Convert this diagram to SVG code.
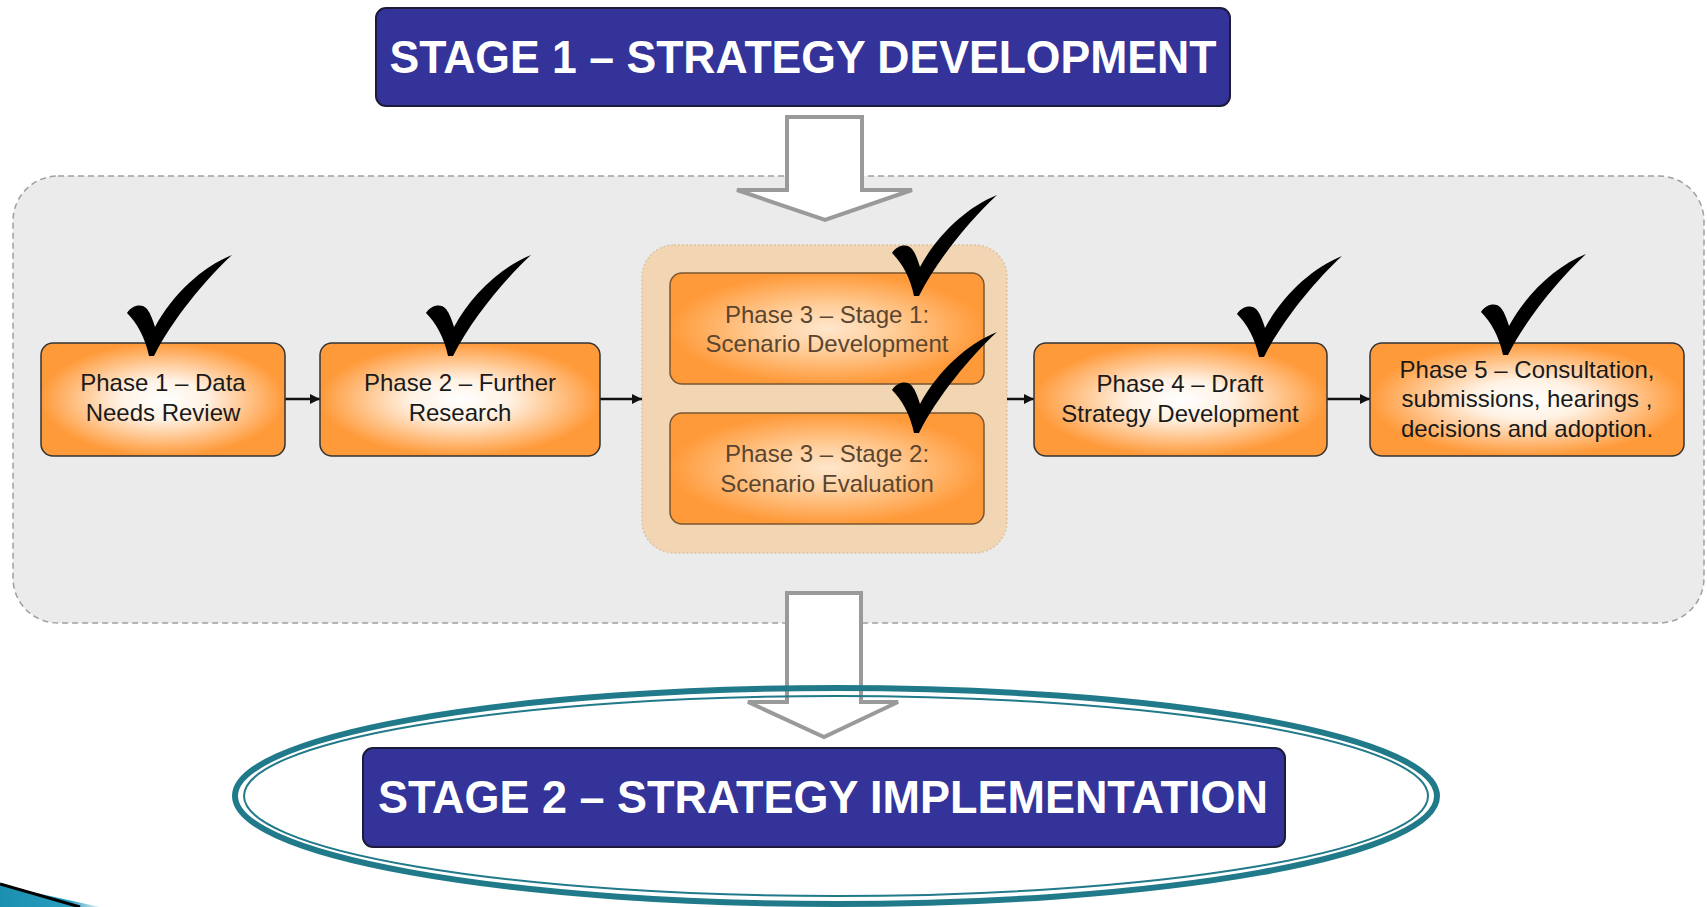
<svg xmlns="http://www.w3.org/2000/svg" width="1707" height="907" viewBox="0 0 1707 907">
<defs>
<radialGradient id="og" cx="0.5" cy="0.5" r="0.5">
<stop offset="0" stop-color="#ffffff"/>
<stop offset="0.35" stop-color="#fff2e4"/>
<stop offset="1" stop-color="#ff9a3a"/>
</radialGradient>
<radialGradient id="og3" cx="0.5" cy="0.5" r="0.5">
<stop offset="0" stop-color="#ffe6cc"/>
<stop offset="0.4" stop-color="#ffcf9c"/>
<stop offset="1" stop-color="#ff9a3a"/>
</radialGradient>
<linearGradient id="sw" x1="0" y1="0" x2="1" y2="0">
<stop offset="0" stop-color="#1b8fb0"/>
<stop offset="0.7" stop-color="#2a9ec0"/>
<stop offset="1" stop-color="#e6f4f8"/>
</linearGradient>
<marker id="ah" viewBox="0 0 10 10" refX="10" refY="5" markerWidth="10" markerHeight="10" markerUnits="userSpaceOnUse" orient="auto">
<path d="M0,0 L10,5 L0,10 Z" fill="#111"/>
</marker>
<path id="chk" d="M0,58 C5,50 15,48 20,54 C24,59 26,66 28,72 C45,40 75,12 105,0 C78,25 45,65 27,101 L22,101 C18,82 10,68 0,58 Z"/>
</defs>
<style>
.stage{fill:#333399;stroke:#1c1c3a;stroke-width:2}
.stxt{font-family:"Liberation Sans",Arial,sans-serif;font-weight:bold;font-size:46px;fill:#ffffff}
.box{fill:url(#og);stroke:#333;stroke-width:1.5}
.box3{fill:url(#og3);stroke:#7a5530;stroke-width:1.5}
.t{font-family:"Liberation Sans",Arial,sans-serif;font-size:24px;fill:#1a1a1a;text-anchor:middle}
.t3{font-family:"Liberation Sans",Arial,sans-serif;font-size:24px;fill:#5a4530;text-anchor:middle}
.harrow{fill:#ffffff;stroke:#9a9a9a;stroke-width:4;stroke-linejoin:miter}
.conn{stroke:#111;stroke-width:2.5;fill:none;marker-end:url(#ah)}
.check{fill:#000}
</style>
<rect x="0" y="0" width="1707" height="907" fill="#ffffff"/>
<g id="stage1">
<rect class="stage" x="376" y="8" width="854" height="98" rx="10"/>
<text class="stxt" x="803" y="73" text-anchor="middle" textLength="827" lengthAdjust="spacingAndGlyphs">STAGE 1 – STRATEGY DEVELOPMENT</text>
</g>
<g id="container">
<rect x="13" y="176" width="1691" height="447" rx="45" fill="#ebebeb" stroke="#a0a0a0" stroke-width="1.5" stroke-dasharray="6 4"/>
</g>
<g id="arrow-top">
<path class="harrow" d="M787,117 L862,117 L862,190 L912,190 L825,220 L737,190 L787,190 Z"/>
</g>
<g id="phase3-group">
<rect x="642" y="245" width="365" height="308" rx="32" fill="#f2d5b3" stroke="#dcc3a3" stroke-width="1.5" stroke-dasharray="2 2"/>
</g>
<g id="connectors">
<line class="conn" x1="285" y1="399" x2="320" y2="399"/>
<line class="conn" x1="600" y1="399" x2="642" y2="399"/>
<line class="conn" x1="1007" y1="399" x2="1034" y2="399"/>
<line class="conn" x1="1327" y1="399" x2="1370" y2="399"/>
</g>
<g id="phase1">
<rect class="box" x="41" y="343" width="244" height="113" rx="12"/>
<text class="t" x="163" y="391">Phase 1 – Data</text>
<text class="t" x="163" y="421">Needs Review</text>
</g>
<g id="phase2">
<rect class="box" x="320" y="343" width="280" height="113" rx="12"/>
<text class="t" x="460" y="391">Phase 2 – Further</text>
<text class="t" x="460" y="421">Research</text>
</g>
<g id="phase3-stage1">
<rect class="box3" x="670" y="273" width="314" height="111" rx="12"/>
<text class="t3" x="827" y="323">Phase 3 – Stage 1:</text>
<text class="t3" x="827" y="352">Scenario Development</text>
</g>
<g id="phase3-stage2">
<rect class="box3" x="670" y="413" width="314" height="111" rx="12"/>
<text class="t3" x="827" y="462">Phase 3 – Stage 2:</text>
<text class="t3" x="827" y="492">Scenario Evaluation</text>
</g>
<g id="phase4">
<rect class="box" x="1034" y="343" width="293" height="113" rx="12"/>
<text class="t" x="1180" y="392">Phase 4 – Draft</text>
<text class="t" x="1180" y="422">Strategy Development</text>
</g>
<g id="phase5">
<rect class="box" x="1370" y="343" width="314" height="113" rx="12"/>
<text class="t" x="1527" y="378">Phase 5 – Consultation,</text>
<text class="t" x="1527" y="407">submissions, hearings ,</text>
<text class="t" x="1527" y="437">decisions and adoption.</text>
</g>
<g id="checks">
<use href="#chk" class="check" x="127" y="255"/>
<use href="#chk" class="check" x="426" y="255"/>
<use href="#chk" class="check" x="892" y="195"/>
<use href="#chk" class="check" x="892" y="332"/>
<use href="#chk" class="check" x="1237" y="256"/>
<use href="#chk" class="check" x="1481" y="254"/>
</g>
<g id="arrow-bottom">
<path class="harrow" d="M787,593 L861,593 L861,702 L898,702 L824,737 L748,702 L787,702 Z"/>
</g>
<g id="ellipse">
<ellipse cx="836" cy="796" rx="601" ry="108" fill="none" stroke="#217a8a" stroke-width="6"/>
<ellipse cx="836" cy="796" rx="592" ry="100" fill="none" stroke="#217a8a" stroke-width="2"/>
</g>
<g id="stage2">
<rect class="stage" x="363" y="748" width="922" height="99" rx="10"/>
<text class="stxt" x="823" y="813" text-anchor="middle" textLength="890" lengthAdjust="spacingAndGlyphs">STAGE 2 – STRATEGY IMPLEMENTATION</text>
</g>
<g id="corner">
<path d="M0,885 L100,907 L0,907 Z" fill="url(#sw)"/>
<path d="M0,884 L80,907" stroke="#000" stroke-width="3"/>
</g>
</svg>
